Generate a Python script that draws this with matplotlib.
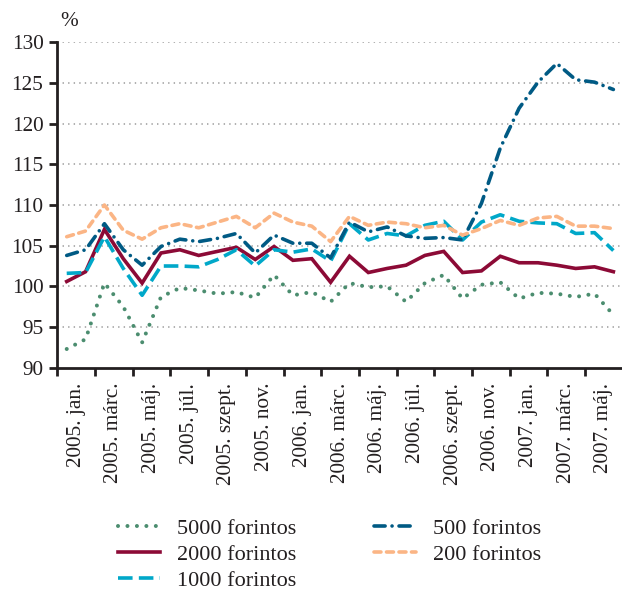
import matplotlib
matplotlib.use("Agg")
import matplotlib.pyplot as plt
import numpy as np

plt.rcParams['font.family'] = ['Liberation Serif', 'DejaVu Serif']
plt.rcParams['lines.scale_dashes'] = False

months = ["2005. jan.", "2005. febr.", "2005. márc.", "2005. ápr.", "2005. máj.", "2005. jún.",
          "2005. júl.", "2005. aug.", "2005. szept.", "2005. okt.", "2005. nov.", "2005. dec.",
          "2006. jan.", "2006. febr.", "2006. márc.", "2006. ápr.", "2006. máj.", "2006. jún.",
          "2006. júl.", "2006. aug.", "2006. szept.", "2006. okt.", "2006. nov.", "2006. dec.",
          "2007. jan.", "2007. febr.", "2007. márc.", "2007. ápr.", "2007. máj.", "2007. jún."]

s5000 = [92.3, 93.5, 100.4, 97.5, 93.1, 98.7, 99.8, 99.5, 99.1, 99.3, 98.6, 101.4, 98.9, 99.3, 98.1,
         100.4, 99.9, 100.0, 98.1, 100.4, 101.4, 98.5, 100.2, 100.5, 98.5, 99.2, 99.1, 98.7, 99.1, 96.5]
s2000 = [100.6, 101.8, 107.0, 103.4, 100.4, 104.1, 104.5, 103.8, 104.3, 104.8, 103.3, 104.9, 103.2, 103.4, 100.5,
         103.7, 101.7, 102.2, 102.6, 103.8, 104.3, 101.7, 101.9, 103.7, 102.9, 102.9, 102.6, 102.2, 102.4, 101.8]
s1000 = [101.6, 101.7, 106.1, 102.2, 98.9, 102.5, 102.5, 102.4, 103.3, 104.5, 102.5, 104.5, 104.2, 104.6, 103.1,
         107.7, 105.7, 106.5, 106.2, 107.5, 108.0, 105.7, 107.9, 108.8, 108.0, 107.8, 107.7, 106.5, 106.6, 104.4]
s500 = [103.8, 104.5, 107.7, 104.5, 102.6, 104.9, 105.8, 105.5, 105.9, 106.5, 104.1, 106.3, 105.3, 105.3, 103.5,
        107.9, 106.7, 107.3, 106.2, 105.9, 106.0, 105.7, 110.2, 117.0, 121.9, 125.1, 127.4, 125.4, 125.1, 124.2]
s200 = [106.1, 106.8, 110.0, 106.9, 105.8, 107.2, 107.7, 107.2, 107.9, 108.6, 107.2, 109.0, 107.9, 107.4, 105.5,
        108.6, 107.5, 107.9, 107.7, 107.2, 107.5, 106.3, 107.1, 108.1, 107.5, 108.4, 108.6, 107.4, 107.4, 107.1]

series_names = ["5000 forintos", "2000 forintos", "1000 forintos", "500 forintos", "200 forintos"]
y_ticks = [90, 95, 100, 105, 110, 115, 120, 125, 130]

fig = plt.figure(figsize=(6.22, 5.92), dpi=100)
ax = fig.add_axes([57.3 / 622, 1 - 367.7 / 592, (622.8 - 57.3) / 622, (367.7 - 42.3) / 592])

x = np.arange(len(months))
col_green = '#4b8d6f'
col_red = '#8c0a36'
col_cyan = '#00a8c9'
col_navy = '#005a84'
col_orange = '#fbb585'
txt = '#231f20'

ax.plot(x, s5000, color=col_green, lw=2.9, linestyle=(0, (0.01, 6.8)), dash_capstyle='round',
        label=series_names[0])
ax.plot(x, s2000, color=col_red, lw=2.6, linestyle='-', solid_joinstyle='miter', label=series_names[1])
ax.plot(x, s1000, color=col_cyan, lw=2.6, linestyle=(0, (10.5, 4.5)), dash_capstyle='butt',
        label=series_names[2])
ax.plot(x, s500, color=col_navy, lw=2.6, linestyle=(0, (8, 5, 0.01, 5)), dash_capstyle='round',
        label=series_names[3])
ax.plot(x, s200, color=col_orange, lw=2.6, linestyle=(0, (5, 4)), dash_capstyle='round',
        label=series_names[4])

ax.set_xlim(-0.5, len(months) - 0.5)
ax.set_ylim(90, 130)

ax.set_yticks(y_ticks)
ax.set_yticklabels([str(v) for v in y_ticks])
for v in y_ticks[1:]:
    ax.axhline(v, color='#9a9a9a', lw=1.1, linestyle=(0, (1, 3)), zorder=0)

ax.set_xticks(np.arange(-0.5, len(months), 2))
ax.set_xticklabels([])
ax.set_xticks(np.arange(0.5, len(months), 2), minor=True)
ax.set_xticklabels(months[::2], minor=True, rotation=90, va='top', ha='center')
ax.tick_params(axis='x', which='minor', length=0, pad=11, labelsize=15.3, colors=txt)
ax.tick_params(axis='x', which='major', length=6, width=2, direction='out', color=txt)
ax.tick_params(axis='y', length=6, width=2, direction='out', pad=4, labelsize=15.3,
               color=txt, labelcolor=txt)

for side in ['top', 'right']:
    ax.spines[side].set_visible(False)
for side in ['left', 'bottom']:
    ax.spines[side].set_linewidth(2)
    ax.spines[side].set_color(txt)

fig.text(60 / 622, 1 - 22 / 592, '%', ha='left', va='center', fontsize=15.3, color=txt)

leg = fig.legend(loc='upper left', bbox_to_anchor=(118 / 622, 1 - 518 / 592), ncol=2, frameon=False,
                 fontsize=16, handlelength=1.9, handletextpad=0.75, columnspacing=3.5,
                 labelspacing=0.26, borderpad=0, borderaxespad=0)
for t in leg.get_texts():
    t.set_color(txt)

fig.savefig('out.png', dpi=100)
